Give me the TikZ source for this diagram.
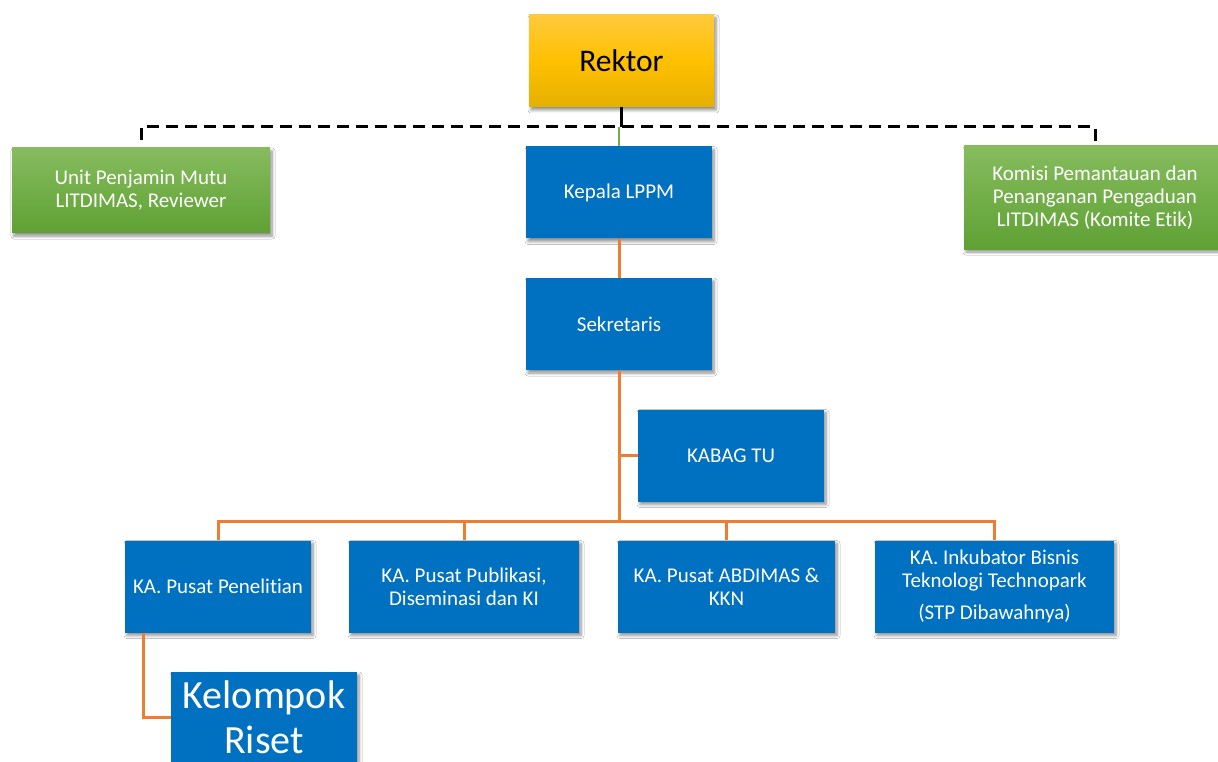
\documentclass[tikz,border=0pt]{standalone}
\usepackage{fontspec}
\setmainfont[Ligatures={NoCommon}]{Carlito}
\usetikzlibrary{shadows.blur}
\definecolor{boxblue}{HTML}{0070C0}
\definecolor{lineorange}{HTML}{ED7D31}
\definecolor{greentop}{HTML}{86BC5E}
\definecolor{greenbot}{HTML}{5FA134}
\definecolor{goldtop}{HTML}{FFC93C}
\definecolor{goldmid}{HTML}{FFC000}
\definecolor{goldbot}{HTML}{E5B000}
\definecolor{linegreen}{HTML}{70AD47}
\tikzset{
  shad/.style={blur shadow={shadow xshift=2pt, shadow yshift=-3pt, shadow blur steps=6, shadow opacity=45, shadow blur radius=3pt}},
  bluebox/.style={shad, fill=boxblue, text=white, inner sep=0pt, align=center,
    font=\fontsize{21}{23}\selectfont, minimum width=186pt, minimum height=92pt},
  greenbox/.style={shad, top color=greentop, bottom color=greenbot, text=white, inner sep=0pt,
    align=center, font=\fontsize{21}{23}\selectfont},
  goldbox/.style={shad, top color=goldtop, bottom color=goldbot, middle color=goldmid, text=black, inner sep=0pt,
    align=center, font=\fontsize{31.5}{36}\selectfont, minimum width=185pt, minimum height=92pt},
  orline/.style={draw=lineorange, line width=3pt},
  dashline/.style={draw=black, line width=3pt, dash pattern=on 12pt off 7pt},
}
\begin{document}
\begin{tikzpicture}[x=1pt,y=-1pt]
\useasboundingbox (0,0) rectangle (1218,762);
\fill[white] (0,0) rectangle (1218,762);

% nodes
\node[goldbox] (rektor) at (621.5,61) {Rektor};
\node[greenbox, minimum width=258pt, minimum height=85pt] (unit) at (141,190.5) {Unit Penjamin Mutu\\LITDIMAS, Reviewer};
\node[greenbox, minimum width=262pt, minimum height=103pt] (komisi) at (1095,197.5) {Komisi Pemantauan dan\\Penanganan Pengaduan\\LITDIMAS (Komite Etik)};
\node[bluebox] (kepala) at (619,192.5) {Kepala LPPM};
\node[bluebox] (sekr) at (619,324) {Sekretaris};
\node[bluebox] (kabag) at (731,455.5) {KABAG TU};
\node[bluebox, minimum width=186pt] (p1) at (218,586.5) {KA. Pusat Penelitian};
\node[bluebox, minimum width=230pt] (p2) at (464,586.5) {KA. Pusat Publikasi,\\Diseminasi dan KI};
\node[bluebox, minimum width=217pt] (p3) at (726.5,586.5) {KA. Pusat ABDIMAS \&\\KKN};
\node[bluebox, minimum width=239pt] (p4) at (994.5,586.5) {KA. Inkubator Bisnis\\Teknologi Technopark\\[9pt](STP Dibawahnya)};
\node[bluebox, minimum width=186pt, minimum height=90pt, font=\fontsize{40}{45}\selectfont] (kr) at (264,717) {Kelompok\\Riset};

% coordinates for junctions
\coordinate (dc) at (621,127);
\coordinate (dl) at (141,140);
\coordinate (dr) at (1095,143);
\coordinate (bus) at (619,521);
\coordinate (kc) at (143,717);

% connectors
\draw[draw=black, line width=3pt] (rektor.south) -- (rektor.south |- dc);
\draw[draw=linegreen, line width=2pt] (kepala.north) -- (kepala.north |- dc);
\draw[dashline] (dl) |- (dc) -| (dr);
\draw[orline] (kepala.south) -- (sekr.north);
\draw[orline] (sekr.south) -- (bus);
\draw[orline] (sekr.south |- kabag.west) -- (kabag.west);
\draw[orline] (p1.north) |- (p4.north |- bus) -- (p4.north);
\draw[orline] (p2.north) -- (p2.north |- bus);
\draw[orline] (p3.north) -- (p3.north |- bus);
\draw[orline] (p1.south -| kc) |- (kr.west);
\end{tikzpicture}
\end{document}
